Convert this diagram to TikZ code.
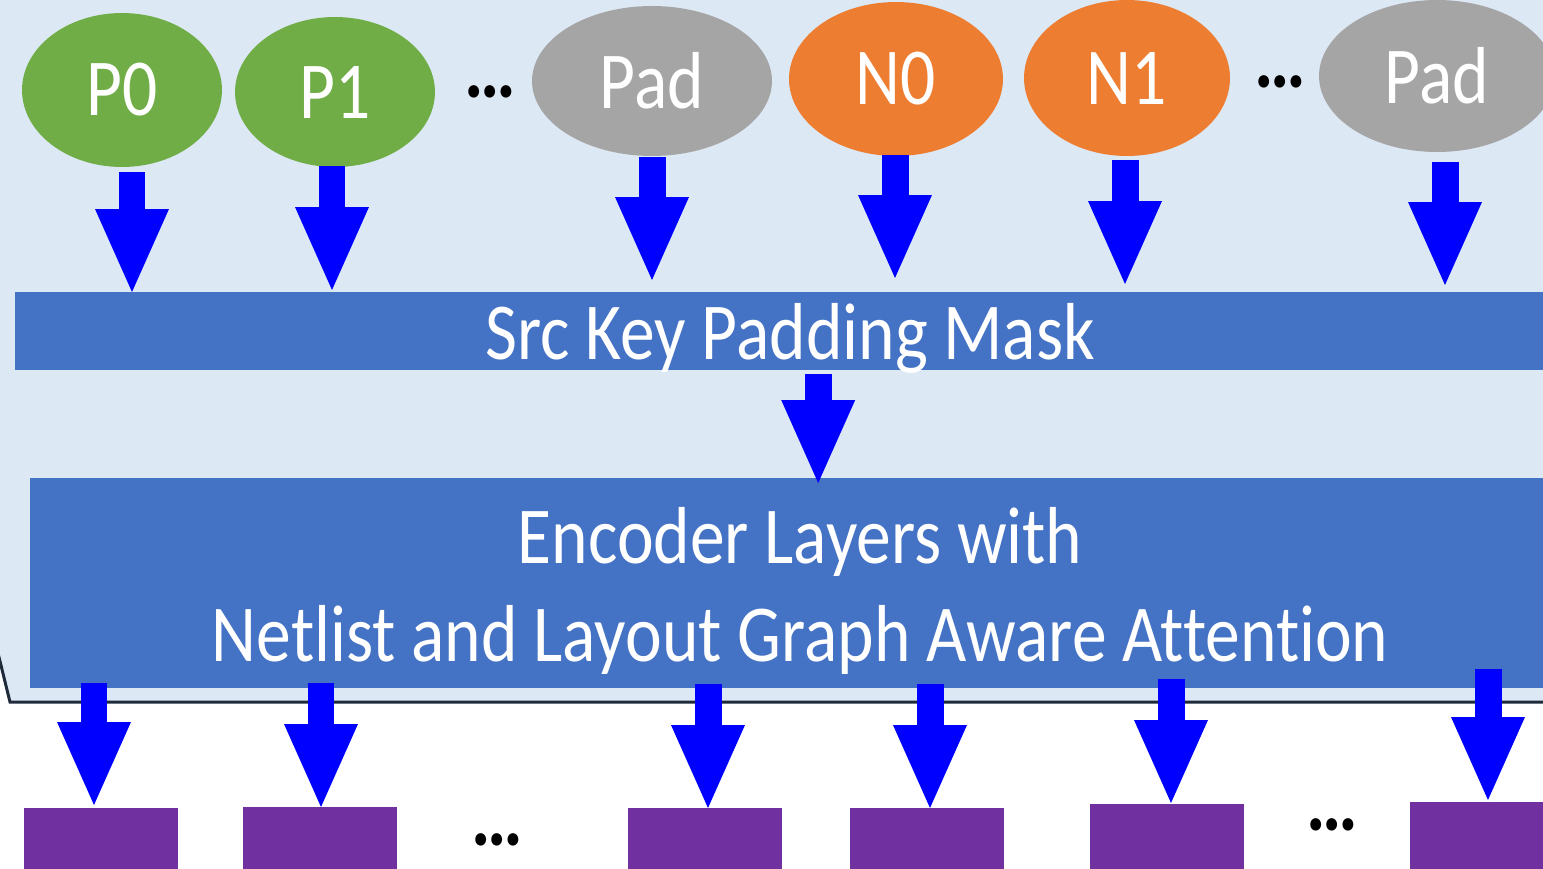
\documentclass[tikz,border=0pt]{standalone}
\usepackage{fontspec}
\setmainfont{Carlito}[FakeStretch=0.86,Ligatures=NoCommon]
\usetikzlibrary{arrows.meta,shapes.geometric,calc}
\definecolor{panelbg}{HTML}{DDE8F5}
\definecolor{panelline}{HTML}{1F2A3A}
\definecolor{barblue}{HTML}{4472C4}
\definecolor{pgreen}{HTML}{70AD47}
\definecolor{ngray}{HTML}{A5A5A5}
\definecolor{norange}{HTML}{ED7D31}
\definecolor{opurple}{HTML}{7030A0}
\definecolor{arrowblue}{HTML}{0000FF}
% lower a line of text without changing its reported size
\newcommand{\lowerby}[2]{\raisebox{-#1}[\height][\depth]{#2}}
\begin{document}
\begin{tikzpicture}[x=0.02cm,y=-0.02cm,
  lbl/.style={text=white,font=\fontsize{46}{54}\selectfont},
  token/.style={ellipse,inner sep=0pt,lbl},
  ptok/.style={token,fill=pgreen},
  gtok/.style={token,fill=ngray},
  ntok/.style={token,fill=norange},
  band/.style={rectangle,fill=barblue,inner sep=0pt,lbl,align=center},
  outbox/.style={rectangle,fill=opurple,inner sep=0pt,minimum width=3.08cm,minimum height=1.6cm,anchor=north},
  ellip/.style={text=black,font=\fontsize{48}{54}\selectfont\bfseries,inner sep=0pt,anchor=base},
  blk/.style={draw=arrowblue,line width=0.54cm,-{Triangle[length=1.66cm,width=1.48cm,line width=0pt]}}
]
\useasboundingbox (0,0) rectangle (1543,869);

% light panel with a chamfered lower-left corner
\fill[panelbg] (-10,-10) -- (-10,620) -- (10,702) -- (1560,702) -- (1560,-10) -- cycle;
\draw[panelline,line width=0.06cm] (-4,645) -- (10,702) -- (1560,702);

% input tokens
\node[ptok,minimum width=4cm,minimum height=3.08cm] (p0) at (122,90) {P0};
\node[ptok,minimum width=4cm,minimum height=3cm] (p1) at (335,92) {P1};
\node[ellip] (d1) at (490,97) {…};
\node[gtok,minimum width=4.8cm,minimum height=3cm] (pad1) at (652,81) {Pad};
\node[ntok,minimum width=4.28cm,minimum height=3.08cm] (n0) at (896,79) {N0};
\node[ntok,minimum width=4.12cm,minimum height=3.12cm] (n1) at (1127,78) {N1};
\node[ellip] (d2) at (1280,87) {…};
\node[gtok,minimum width=4.72cm,minimum height=3.04cm] (pad2) at (1437,76) {Pad};

% mask and encoder bands
\node[band,anchor=north west,minimum width=31cm,minimum height=1.56cm] (mask) at (15,292)
  {\lowerby{0.14cm}{Src Key Padding Mask}};
\node[band,anchor=north west,minimum width=30.8cm,minimum height=4.2cm] (enc) at (30,478)
  {\lowerby{0.2cm}{Encoder Layers with}\\[5pt]\lowerby{0.1cm}{Netlist and Layout Graph Aware Attention}};

% output embeddings
\node[outbox] (o1) at (101,808) {};
\node[outbox] (o2) at (320,807) {};
\node[ellip] (d3) at (497,845) {…};
\node[outbox] (o3) at (705,808) {};
\node[outbox] (o4) at (927,808) {};
\node[outbox] (o5) at (1167,804) {};
\node[ellip] (d4) at (1332,830) {…};
\node[outbox] (o6) at (1487,802) {};

% tokens into the mask
\draw[blk] ($(p0.south)+(10,5)$) -- ($(p0.south |- mask.north)+(10,0)$);
\draw[blk] ($(p1.south)+(-3,-1)$) -- ($(p1.south |- mask.north)+(-3,-2)$);
\draw[blk] ($(pad1.south)+(0,1)$) -- ($(pad1.south |- mask.north)+(0,-12)$);
\draw[blk] ($(n0.south)+(-1,-1)$) -- ($(n0.south |- mask.north)+(-1,-14)$);
\draw[blk] ($(n1.south)+(-2,4)$) -- ($(n1.south |- mask.north)+(-2,-8)$);
\draw[blk] ($(pad2.south)+(8,10)$) -- ($(pad2.south |- mask.north)+(8,-7)$);

% mask into the encoder
\draw[blk] ($(mask.south)+(28,3)$) -- ($(mask.south |- enc.north)+(28,5)$);

% encoder into the outputs
\draw[blk] ($(o1.north |- enc.south)+(-7,-6)$) -- ($(o1.north)+(-7,-3)$);
\draw[blk] ($(o2.north |- enc.south)+(1,-6)$) -- ($(o2.north)+(1,0)$);
\draw[blk] ($(o3.north |- enc.south)+(3,-5)$) -- ($(o3.north)+(3,0)$);
\draw[blk] ($(o4.north |- enc.south)+(3,-5)$) -- ($(o4.north)+(3,0)$);
\draw[blk] ($(o5.north |- enc.south)+(4,-10)$) -- ($(o5.north)+(4,-1)$);
\draw[blk] ($(o6.north |- enc.south)+(1,-20)$) -- ($(o6.north)+(1,-2)$);
\end{tikzpicture}
\end{document}
